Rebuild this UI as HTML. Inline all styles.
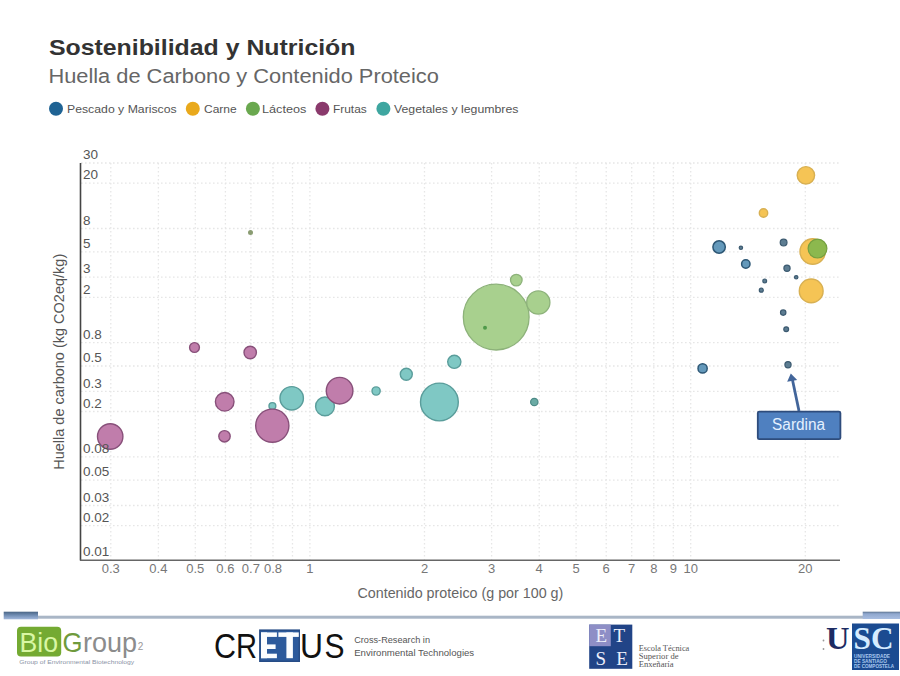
<!DOCTYPE html>
<html><head><meta charset="utf-8"><style>
html,body{margin:0;padding:0;background:#fff;}
body{width:900px;height:676px;overflow:hidden;position:relative;font-family:"Liberation Sans",sans-serif;}
svg{position:absolute;left:0;top:0;}
.g{stroke:#e6e6e6;stroke-width:1.3;stroke-dasharray:1.6 2.4;}
.g0{stroke:#f5f5f5;stroke-width:1;}
.yl{font-size:13.5px;fill:#555;}
.xl{font-size:13px;fill:#777;text-anchor:middle;}
.fr{fill:#c07dab;stroke:#88507a;stroke-width:1.4;}
.vg{fill:#7fc8c4;stroke:#5a9d9b;stroke-width:1.4;}
.la{fill:#a8d08e;stroke:#8db27a;stroke-width:1.3;}
.vg2{fill:#6aaaa4;stroke:#4c8a86;stroke-width:1.2;}
.la2{fill:#8a9c72;}
.la3{fill:#8cb84e;stroke:#74a040;stroke-width:1.2;}
.la4{fill:#4f9a4a;}
.ca{fill:#f5c455;stroke:#d8b052;stroke-width:1.4;}
.pe{fill:#6499bb;stroke:#2d5775;stroke-width:1.5;}
.pe2{fill:#5d7d92;stroke:#3c5a70;stroke-width:1.2;}
</style></head><body>
<svg width="900" height="676" viewBox="0 0 900 676">
<text x="48.9" y="54.5" font-size="21.7" font-weight="bold" fill="#333" textLength="306.6" lengthAdjust="spacingAndGlyphs">Sostenibilidad y Nutrición</text>
<text x="48.4" y="83.3" font-size="20" fill="#666" textLength="390.5" lengthAdjust="spacingAndGlyphs">Huella de Carbono y Contenido Proteico</text>
<g font-size="11" fill="#555">
<circle cx="56" cy="108.7" r="7" fill="#1f6394"/>
<text x="67" y="112.5" textLength="109.7" lengthAdjust="spacingAndGlyphs">Pescado y Mariscos</text>
<circle cx="192.8" cy="108.7" r="7" fill="#e9a91c"/>
<text x="204" y="112.5" textLength="32.7" lengthAdjust="spacingAndGlyphs">Carne</text>
<circle cx="252.9" cy="108.7" r="7" fill="#6aa84f"/>
<text x="262" y="112.5" textLength="44.4" lengthAdjust="spacingAndGlyphs">Lácteos</text>
<circle cx="322.4" cy="108.7" r="7" fill="#8a3a6c"/>
<text x="333" y="112.5" textLength="33.7" lengthAdjust="spacingAndGlyphs">Frutas</text>
<circle cx="383.4" cy="108.7" r="7" fill="#3ea6a0"/>
<text x="394" y="112.5" textLength="124.4" lengthAdjust="spacingAndGlyphs">Vegetales y legumbres</text>
</g>
<line x1="110.8" y1="163" x2="110.8" y2="560" class="g"/><line x1="158.4" y1="163" x2="158.4" y2="560" class="g"/><line x1="195.3" y1="163" x2="195.3" y2="560" class="g"/><line x1="225.4" y1="163" x2="225.4" y2="560" class="g"/><line x1="250.9" y1="163" x2="250.9" y2="560" class="g"/><line x1="273.0" y1="163" x2="273.0" y2="560" class="g"/><line x1="292.5" y1="163" x2="292.5" y2="560" class="g"/><line x1="309.9" y1="163" x2="309.9" y2="560" class="g"/><line x1="424.5" y1="163" x2="424.5" y2="560" class="g"/><line x1="491.6" y1="163" x2="491.6" y2="560" class="g"/><line x1="539.2" y1="163" x2="539.2" y2="560" class="g"/><line x1="576.1" y1="163" x2="576.1" y2="560" class="g"/><line x1="606.2" y1="163" x2="606.2" y2="560" class="g"/><line x1="631.7" y1="163" x2="631.7" y2="560" class="g"/><line x1="653.8" y1="163" x2="653.8" y2="560" class="g"/><line x1="673.3" y1="163" x2="673.3" y2="560" class="g"/><line x1="690.7" y1="163" x2="690.7" y2="560" class="g"/><line x1="805.3" y1="163" x2="805.3" y2="560" class="g"/><line x1="81" y1="183.1" x2="840" y2="183.1" class="g"/><line x1="81" y1="228.5" x2="840" y2="228.5" class="g"/><line x1="81" y1="251.8" x2="840" y2="251.8" class="g"/><line x1="81" y1="277.2" x2="840" y2="277.2" class="g"/><line x1="81" y1="297.3" x2="840" y2="297.3" class="g"/><line x1="81" y1="342.7" x2="840" y2="342.7" class="g"/><line x1="81" y1="366.0" x2="840" y2="366.0" class="g"/><line x1="81" y1="391.4" x2="840" y2="391.4" class="g"/><line x1="81" y1="411.5" x2="840" y2="411.5" class="g"/><line x1="81" y1="456.9" x2="840" y2="456.9" class="g"/><line x1="81" y1="480.2" x2="840" y2="480.2" class="g"/><line x1="81" y1="505.5" x2="840" y2="505.5" class="g"/><line x1="81" y1="525.6" x2="840" y2="525.6" class="g"/><line x1="81" y1="163.0" x2="840" y2="163.0" class="g"/>
<line x1="80.5" y1="163" x2="80.5" y2="560.5" stroke="#444" stroke-width="1.6"/>
<line x1="80" y1="560.2" x2="840" y2="560.2" stroke="#666" stroke-width="1.4"/>
<text x="460.4" y="598" font-size="14.3" fill="#666" text-anchor="middle">Contenido proteico (g por 100 g)</text>
<text transform="translate(63.5,361.8) rotate(-90)" font-size="14.5" fill="#555" text-anchor="middle">Huella de carbono (kg CO2eq/kg)</text>
<circle cx="110.2" cy="436.5" r="12.70" class="fr"/><circle cx="194.5" cy="347.5" r="4.90" class="fr"/><circle cx="250.2" cy="352.5" r="6.20" class="fr"/><circle cx="224.7" cy="401.8" r="9.30" class="fr"/><circle cx="224.5" cy="436.3" r="5.70" class="fr"/><circle cx="272.4" cy="406" r="3.40" class="vg"/><circle cx="272.3" cy="425.7" r="16.60" class="fr"/><circle cx="291.7" cy="398.3" r="11.70" class="vg"/><circle cx="325" cy="406.4" r="9.40" class="vg"/><circle cx="339.6" cy="390.7" r="13.30" class="fr"/><circle cx="376.1" cy="391" r="4.10" class="vg"/><circle cx="406.3" cy="374.3" r="6.00" class="vg"/><circle cx="454.3" cy="361.8" r="6.60" class="vg"/><circle cx="439.4" cy="402" r="18.90" class="vg"/><circle cx="534.3" cy="402" r="3.70" class="vg2"/><circle cx="496.2" cy="317.1" r="32.90" class="la"/><circle cx="516.3" cy="280.1" r="5.80" class="la"/><circle cx="538.3" cy="302.5" r="11.60" class="la"/><circle cx="250.5" cy="232.4" r="2.50" class="la2"/><circle cx="805.9" cy="175.3" r="8.70" class="ca"/><circle cx="763.5" cy="213" r="4.20" class="ca"/><circle cx="812.7" cy="251.5" r="12.70" class="ca"/><circle cx="811.2" cy="290.9" r="11.90" class="ca"/><circle cx="719.1" cy="247" r="6.20" class="pe"/><circle cx="740.9" cy="247.8" r="1.70" class="pe2"/><circle cx="745.8" cy="264" r="4.20" class="pe"/><circle cx="783.6" cy="242.6" r="3.40" class="pe2"/><circle cx="787" cy="268.2" r="3.10" class="pe2"/><circle cx="764.7" cy="280.9" r="1.90" class="pe2"/><circle cx="761.3" cy="290.2" r="2.00" class="pe2"/><circle cx="796.2" cy="277.3" r="1.70" class="pe2"/><circle cx="783.2" cy="312.6" r="2.70" class="pe2"/><circle cx="786.2" cy="329.2" r="2.40" class="pe2"/><circle cx="788" cy="364.7" r="3.10" class="pe2"/><circle cx="702.6" cy="368.4" r="4.60" class="pe"/><circle cx="817.5" cy="248.6" r="9.40" class="la3"/><circle cx="485" cy="327.7" r="2.00" class="la4"/>
<text x="83" y="159.2" class="yl">30</text><text x="83" y="179.3" class="yl">20</text><text x="83" y="224.7" class="yl">8</text><text x="83" y="248.0" class="yl">5</text><text x="83" y="273.4" class="yl">3</text><text x="83" y="293.5" class="yl">2</text><text x="83" y="338.9" class="yl">0.8</text><text x="83" y="362.2" class="yl">0.5</text><text x="83" y="387.6" class="yl">0.3</text><text x="83" y="407.7" class="yl">0.2</text><text x="83" y="453.1" class="yl">0.08</text><text x="83" y="476.4" class="yl">0.05</text><text x="83" y="501.7" class="yl">0.03</text><text x="83" y="521.8" class="yl">0.02</text><text x="83" y="556.2" class="yl">0.01</text><text x="110.8" y="573" class="xl">0.3</text><text x="158.4" y="573" class="xl">0.4</text><text x="195.3" y="573" class="xl">0.5</text><text x="225.4" y="573" class="xl">0.6</text><text x="250.9" y="573" class="xl">0.7</text><text x="273.0" y="573" class="xl">0.8</text><text x="309.9" y="573" class="xl">1</text><text x="424.5" y="573" class="xl">2</text><text x="491.6" y="573" class="xl">3</text><text x="539.2" y="573" class="xl">4</text><text x="576.1" y="573" class="xl">5</text><text x="606.2" y="573" class="xl">6</text><text x="631.7" y="573" class="xl">7</text><text x="653.8" y="573" class="xl">8</text><text x="673.3" y="573" class="xl">9</text><text x="690.7" y="573" class="xl">10</text><text x="805.3" y="573" class="xl">20</text>
<!-- annotation -->
<line x1="799" y1="411" x2="792.5" y2="380" stroke="#42659a" stroke-width="2.8"/>
<polygon points="790.8,373.6 787.2,381.8 797.2,380" fill="#42659a"/>
<rect x="757.8" y="411.6" width="82.6" height="27.6" rx="1.5" fill="#4f80c0" stroke="#2e4c7c" stroke-width="1.8"/>
<text x="798.6" y="429.8" font-size="15.8" fill="#e4f0ff" text-anchor="middle" textLength="53" lengthAdjust="spacingAndGlyphs">Sardina</text>
<!-- footer -->
<defs><linearGradient id="lg1" x1="0" y1="0" x2="0" y2="1"><stop offset="0" stop-color="#4a6585"/><stop offset="0.45" stop-color="#6f8cb2"/><stop offset="1" stop-color="#a2b8dc"/></linearGradient>
<linearGradient id="lg2" x1="0" y1="0" x2="0" y2="1"><stop offset="0" stop-color="#5d7490"/><stop offset="0.3" stop-color="#90a8cf"/><stop offset="1" stop-color="#a8bde0"/></linearGradient></defs>
<rect x="4" y="615.7" width="896" height="3" fill="#a9b6c6"/>
<rect x="3.7" y="611.7" width="34.3" height="7.6" fill="url(#lg1)"/>
<rect x="862.7" y="611.7" width="37.3" height="7.3" fill="url(#lg2)"/>

<!-- BioGroup -->
<rect x="17" y="626.7" width="44.2" height="29.7" rx="4" fill="#74aa32"/>
<text x="19.5" y="652.4" font-size="28.5" fill="#d9f7a4" textLength="38.5" lengthAdjust="spacingAndGlyphs">Bio</text>
<text x="62.5" y="652.4" font-size="28.5" fill="#6f9a3c" textLength="20" lengthAdjust="spacingAndGlyphs">G</text>
<text x="83" y="652.4" font-size="28.5" fill="#8c8c8c" textLength="54" lengthAdjust="spacingAndGlyphs">roup</text>
<text x="137.8" y="650.3" font-size="10" fill="#999">2</text>
<text x="19.2" y="663.8" font-size="6.2" fill="#8a93a6" textLength="115" lengthAdjust="spacingAndGlyphs">Group of Environmental Biotechnology</text>
<!-- CRETUS -->
<rect x="259.1" y="629.4" width="40.9" height="32.6" fill="#264c86"/>
<rect x="260.6" y="630.9" width="37.9" height="29.6" fill="#2c5a9c"/>
<g fill="#fbfdff">
<rect x="261" y="632.4" width="6" height="25.8"/>
<rect x="261" y="632.4" width="15.9" height="4.5"/>
<rect x="261" y="644.4" width="14.6" height="4.6"/>
<rect x="261" y="653.7" width="15.9" height="4.5"/>
<rect x="278.4" y="632.4" width="20.4" height="4.5"/>
<rect x="286.4" y="632.4" width="6.5" height="25.8"/>
</g>
<g font-size="35" fill="#111">
<text x="214" y="658.1" textLength="22" lengthAdjust="spacingAndGlyphs">C</text>
<text x="236" y="658.1" textLength="21" lengthAdjust="spacingAndGlyphs">R</text>
<text x="300" y="658.1" textLength="23" lengthAdjust="spacingAndGlyphs">U</text>
<text x="324.5" y="658.1" textLength="20" lengthAdjust="spacingAndGlyphs">S</text>
</g>
<text x="354.2" y="643.2" font-size="8.8" fill="#555" textLength="75.8" lengthAdjust="spacingAndGlyphs">Cross-Research in</text>
<text x="354.2" y="655.6" font-size="8.8" fill="#555" textLength="120" lengthAdjust="spacingAndGlyphs">Environmental Technologies</text>
<!-- ETSE -->
<rect x="589.2" y="624.6" width="43.1" height="44.2" fill="#214487"/>
<rect x="589.2" y="624.6" width="21.6" height="21.6" fill="#8e8ec6"/>
<g font-family="Liberation Serif" font-size="19" fill="#eceefa">
<text x="595.6" y="641.9">E</text>
<text x="613.5" y="641.9">T</text>
<text x="595.6" y="665">S</text>
<text x="616.3" y="665">E</text>
</g>
<g font-family="Liberation Serif" font-size="8.6" fill="#555">
<text x="638.7" y="650.5" textLength="50.6" lengthAdjust="spacingAndGlyphs">Escola Técnica</text>
<text x="638.7" y="658.8">Superior de</text>
<text x="638.7" y="667">Enxeñaría</text>
</g>
<!-- USC -->
<rect x="852" y="623.5" width="47" height="46.5" fill="#1b4b91"/>
<g font-family="Liberation Serif" font-size="30.5" font-weight="bold">
<text x="826" y="649.3" fill="#1c2b63" textLength="23.5" lengthAdjust="spacingAndGlyphs">U</text>
<text x="853.5" y="649.3" fill="#d5ebff" textLength="40" lengthAdjust="spacingAndGlyphs">SC</text>
</g>
<g font-size="4.6" fill="#a9c8ee" font-weight="bold">
<text x="854" y="657.5" textLength="36" lengthAdjust="spacingAndGlyphs">UNIVERSIDADE</text>
<text x="854" y="662.5" textLength="33" lengthAdjust="spacingAndGlyphs">DE SANTIAGO</text>
<text x="854" y="667.5" textLength="40" lengthAdjust="spacingAndGlyphs">DE COMPOSTELA</text>
</g>
<circle cx="823.5" cy="640.5" r="0.9" fill="#999"/>
<circle cx="823.5" cy="649" r="0.9" fill="#999"/>
</svg>
</body></html>
